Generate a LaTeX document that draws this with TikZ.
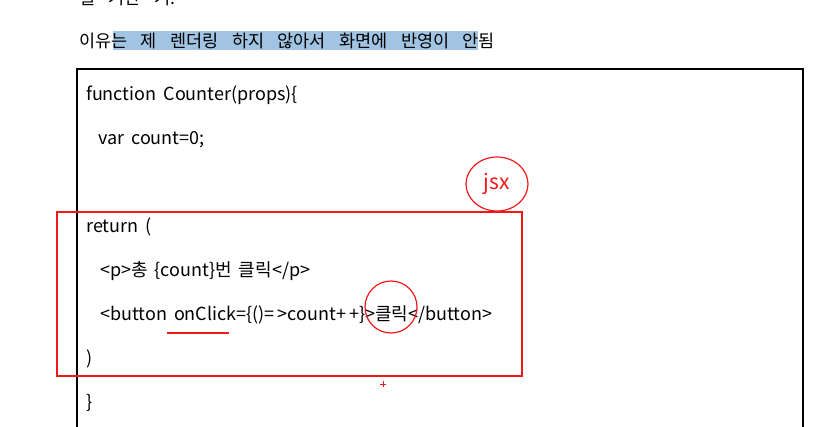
\documentclass[tikz,border=0pt]{standalone}
\usepackage{fontspec}
\usetikzlibrary{shapes.geometric}
\setmainfont{Noto Sans CJK KR}
\definecolor{hl}{HTML}{A0C4E2}
\definecolor{penred}{HTML}{F01818}
\newcommand\codefnt{\fontsize{18}{20}\selectfont\spaceskip 7pt\relax}
\newcommand\titlefnt{\fontsize{17.5}{19}\selectfont\spaceskip 13.4pt\relax}
\tikzset{
  code/.style={anchor=base west, inner sep=0pt, font=\codefnt},
  title/.style={anchor=base west, inner sep=0pt, font=\titlefnt},
  pen/.style={draw=penred, line width=1.2pt},
}
\begin{document}
\begin{tikzpicture}[x=1pt,y=-1pt]
\useasboundingbox (0,0) rectangle (837,426);
\clip (0,0) rectangle (837,426);
% clipped previous line
\node[title] (prev) at (79,4) {될 거란 거.};
% highlight
\fill[hl] (113,31) rectangle (478,50);
\node[title] (head) at (79,47) {이유는 제 렌더링 하지 않아서 화면에 반영이 안됨};
% code box
\draw[line width=1.6pt] (77,440) -- (77,69) -- (803,69) -- (803,440);
\node[code] (l1) at (86,100) {function Counter(props)\{};
\node[code] (l2) at (98,144) {var count=0;};
\node[code] (l3) at (86,232) {return (};
\node[code] (l4) at (100,276) {<p>총 \{count\}번 클릭</p>};
\node[code] (l5) at (100,320) {<button onClick=\{()=\,>count+\,+\}>클릭</button>};
\node[code] (l6) at (86,364) {)};
\node[code] (l7) at (86,408) {\}};
% annotations
\node[pen, ellipse, minimum width=62pt, minimum height=54pt, inner sep=0pt, text=penred, font=\fontsize{21}{23}\selectfont] (jsx) at (497,184) {jsx};
\draw[pen] (57,212) rectangle (522,376);
\draw[pen] (391,307) circle (26);
\draw[pen] (167,333) -- (229,333);
\draw[penred, line width=0.8pt] (380,384) -- (386,384) (383,381) -- (383,387);
\end{tikzpicture}
\end{document}
